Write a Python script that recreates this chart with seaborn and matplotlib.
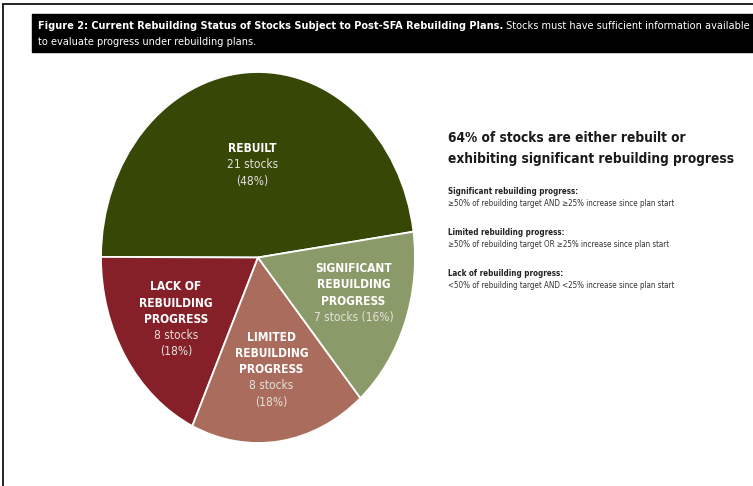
import numpy as np
import matplotlib
matplotlib.use('Agg')
import matplotlib.pyplot as plt
import seaborn as sns

# data
categories = ['REBUILT', 'LACK OF\nREBUILDING\nPROGRESS', 'LIMITED\nREBUILDING\nPROGRESS',
              'SIGNIFICANT\nREBUILDING\nPROGRESS']
stocks = [21, 8, 8, 7]
count_labels = ['21 stocks\n(48%)', '8 stocks\n(18%)', '8 stocks\n(18%)', '7 stocks (16%)']
colors = ['#374806', '#852029', '#aa6d5d', '#8a9a68']

headline = '64% of stocks are either rebuilt or\nexhibiting significant rebuilding progress'
notes = [('Significant rebuilding progress:', '\u226550% of rebuilding target AND \u226525% increase since plan start'),
         ('Limited rebuilding progress:', '\u226550% of rebuilding target OR \u226525% increase since plan start'),
         ('Lack of rebuilding progress:', '<50% of rebuilding target AND <25% increase since plan start')]
title_bold = 'Figure 2: Current Rebuilding Status of Stocks Subject to Post-SFA Rebuilding Plans.'
title_rest = ' Stocks must have sufficient information available'
title_line2 = 'to evaluate progress under rebuilding plans.'

sns.set_style('white')
plt.rcParams['font.family'] = ['DejaVu Sans']
plt.rcParams['font.stretch'] = 'condensed'

W, H = 753, 486
fig = plt.figure(figsize=(W / 100, H / 100), dpi=100)

def fx(px):
    return px / W

def fy(py):
    return 1 - py / H

# outer frame (left + top edges)
fig.add_artist(plt.Line2D([fx(3), fx(3)], [fy(4), 0], color='black', lw=1.2))
fig.add_artist(plt.Line2D([fx(3), 1], [fy(4), fy(4)], color='black', lw=1.2))

# header bar
fig.add_artist(plt.Rectangle((fx(32), fy(52)), 1 - fx(32), fy(14) - fy(52),
                             transform=fig.transFigure, color='black'))
t1 = fig.text(fx(38), fy(26), title_bold, color='white', fontsize=7.8, fontweight='bold', va='center')
fig.canvas.draw()
bb = t1.get_window_extent(renderer=fig.canvas.get_renderer())
fig.text(bb.x1 / W, fy(26), title_rest, color='white', fontsize=7.8, va='center')
fig.text(fx(38), fy(42), title_line2, color='white', fontsize=7.8, va='center')

# pie
ax = fig.add_axes([fx(101), fy(443), fx(314), (443 - 72) / H])
wedges, _ = ax.pie(stocks, colors=colors, startangle=8, counterclock=True,
                   wedgeprops=dict(edgecolor='white', linewidth=1.3))
ax.set_aspect('auto')
ax.set_xlim(-1, 1)
ax.set_ylim(-1, 1)
ax.axis('off')

label_r = [0.5, 0.62, 0.61, 0.65]
nudge_y = [0, 0, 0, 5]
line_h = 11.7
for w, name, cnt, r, ny in zip(wedges, categories, count_labels, label_r, nudge_y):
    mid = np.deg2rad((w.theta1 + w.theta2) / 2)
    x, y = r * np.cos(mid), r * np.sin(mid)
    lines = [(s, 'bold', 'white') for s in name.split('\n')] + \
            [(s, 'normal', '#e6e2dc') for s in cnt.split('\n')]
    n = len(lines)
    for i, (s, wt, c) in enumerate(lines):
        off = ((n - 1) / 2 - i) * line_h + ny
        ax.annotate(s, (x, y), xytext=(0, off), textcoords='offset points',
                    ha='center', va='center', fontsize=8.6, fontweight=wt, color=c)

# right-hand text
fig.text(fx(448), fy(148.5), headline, fontsize=9.8, fontweight='bold', color='#1a1a1a',
         va='center', linespacing=1.6)
y0 = 191
for head, desc in notes:
    fig.text(fx(448), fy(y0), head, fontsize=5.8, fontweight='bold', color='#222222', va='center')
    fig.text(fx(448), fy(y0 + 12), desc, fontsize=5.8, color='#333333', va='center')
    y0 += 41

fig.savefig('out.png', dpi=100)
